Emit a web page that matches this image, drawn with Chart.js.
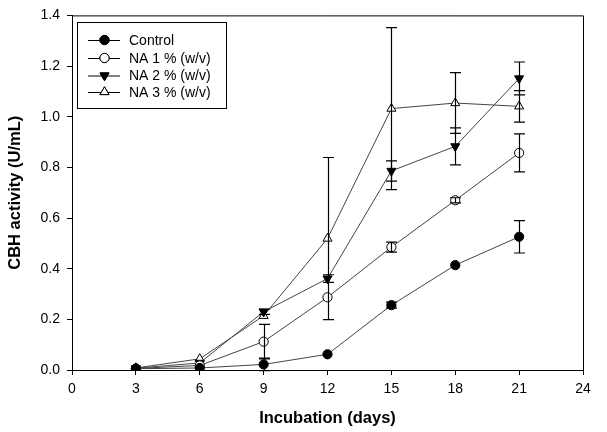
<!DOCTYPE html>
<html>
<head>
<meta charset="utf-8">
<script src="https://cdn.jsdelivr.net/npm/chart.js@4.4.1/dist/chart.umd.min.js"></script>
<style>
html,body{margin:0;padding:0;background:#fff}
#wrap{width:607px;height:432px}
</style>
</head>
<body>
<div id="wrap"><canvas id="cbh" width="607" height="432"></canvas></div>
<script>
// values
const days=[3,6,9,12,15,18,21];
const control=[0.005,0.008,0.022,0.062,0.256,0.414,0.526];
const controlErr=[0,0,0.025,0,0.012,0,0.064];
const na1=[0.006,0.018,0.112,0.287,0.485,0.670,0.857];
const na1Err=[0,0,0.068,0,0.02,0.01,0.075];
const na2=[0.007,0.028,0.230,0.361,0.786,0.883,1.151];
const na2Err=[0,0,0.01,0.015,0.04,0.073,0.065];
const na3=[0.008,0.044,0.214,0.519,1.032,1.054,1.041];
const na3Err=[0,0,0,0.32,0.32,0.12,0.062];
const xTicks=[0,3,6,9,12,15,18,21,24];
const seriesNames=["Control","NA 1 % (w/v)","NA 2 % (w/v)","NA 3 % (w/v)"];

const pts=a=>a.map((v,i)=>({x:days[i],y:v}));
const FONT="'Liberation Sans', Arial, sans-serif";

function ds(label,vals,err,style,fill,rot){
  return {label,data:pts(vals),err,borderColor:"#444",borderWidth:1,
    pointStyle:style,pointRotation:rot||0,pointRadius:style==="circle"?4.6:5.2,
    pointBackgroundColor:fill,pointBorderColor:"#000",pointBorderWidth:1,
    pointHoverRadius:5,tension:0,fill:false};
}

const errBars={id:"errBars",
  afterDatasetsDraw(c){
    const {ctx,scales:{x,y}}=c;
    ctx.save();ctx.strokeStyle="#000";ctx.lineWidth=1.2;
    c.data.datasets.forEach(d=>{
      d.data.forEach((p,i)=>{
        const e=d.err[i];if(!e)return;
        const px=Math.round(x.getPixelForValue(p.x))+0.5;
        const t=y.getPixelForValue(p.y+e),b=y.getPixelForValue(p.y-e);
        ctx.beginPath();
        ctx.moveTo(px,t);ctx.lineTo(px,b);
        ctx.moveTo(px-5.5,t);ctx.lineTo(px+5.5,t);
        ctx.moveTo(px-5.5,b);ctx.lineTo(px+5.5,b);
        ctx.stroke();
      });
    });
    ctx.restore();
  }
};

const frame={id:"frame",
  afterDraw(c){
    const {ctx,chartArea:a}=c;
    ctx.save();ctx.strokeStyle="#000";ctx.lineWidth=1;
    ctx.beginPath();
    ctx.moveTo(a.left,a.top+0.5);ctx.lineTo(a.right+0.5,a.top+0.5);ctx.lineTo(a.right+0.5,a.bottom);
    ctx.stroke();
    // legend box
    const lx=77.5,ly=22.5,lw=149,lh=86;
    ctx.strokeRect(lx,ly,lw,lh);
    const rows=[40,58,75.5,92];
    ctx.font="14px "+FONT;ctx.textBaseline="middle";ctx.fillStyle="#000";
    c.data.datasets.forEach((d,i)=>{
      const yy=rows[i];
      ctx.strokeStyle="#000";ctx.lineWidth=1;
      ctx.beginPath();ctx.moveTo(88,yy+0.5);ctx.lineTo(120,yy+0.5);ctx.stroke();
      ctx.fillStyle=d.pointBackgroundColor;
      Chart.helpers.drawPoint(ctx,{pointStyle:d.pointStyle,rotation:d.pointRotation,radius:d.pointRadius,borderWidth:1},104.5,yy);
      ctx.fill();ctx.stroke();
      ctx.fillStyle="#000";
      ctx.fillText(seriesNames[i],129,yy+1);
    });
    ctx.restore();
  }
};

new Chart(document.getElementById("cbh"),{
  type:"line",
  data:{datasets:[
    ds(seriesNames[0],control,controlErr,"circle","#000"),
    ds(seriesNames[1],na1,na1Err,"circle","#fff"),
    ds(seriesNames[2],na2,na2Err,"triangle","#000",180),
    ds(seriesNames[3],na3,na3Err,"triangle","#fff")
  ]},
  options:{
    responsive:false,animation:false,
    layout:{padding:{top:15,right:24,left:0,bottom:0}},
    plugins:{legend:{display:false},tooltip:{enabled:false}},
    scales:{
      x:{type:"linear",min:0,max:24,
        afterBuildTicks:s=>{s.ticks=xTicks.map(v=>({value:v}));},
        afterFit:s=>{s.height=62;},
        grid:{display:true,drawOnChartArea:false,drawTicks:true,tickLength:5,color:"#000"},
        border:{display:true,color:"#000",width:1},
        ticks:{color:"#000",font:{family:FONT,size:14},padding:6,maxRotation:0},
        title:{display:true,text:"Incubation (days)",color:"#000",font:{family:FONT,size:16.5,weight:"bold"},padding:{top:11}}
      },
      y:{min:0,max:1.4,
        afterFit:s=>{s.width=72;},
        grid:{display:true,drawOnChartArea:false,drawTicks:true,tickLength:5,color:"#000"},
        border:{display:true,color:"#000",width:1},
        ticks:{stepSize:0.2,color:"#000",font:{family:FONT,size:14},padding:7,callback:v=>v.toFixed(1)},
        title:{display:true,text:"CBH activity (U/mL)",color:"#000",font:{family:FONT,size:16.5,weight:"bold"},padding:{top:6,bottom:4}}
      }
    }
  },
  plugins:[errBars,frame]
});
</script>
</body>
</html>
